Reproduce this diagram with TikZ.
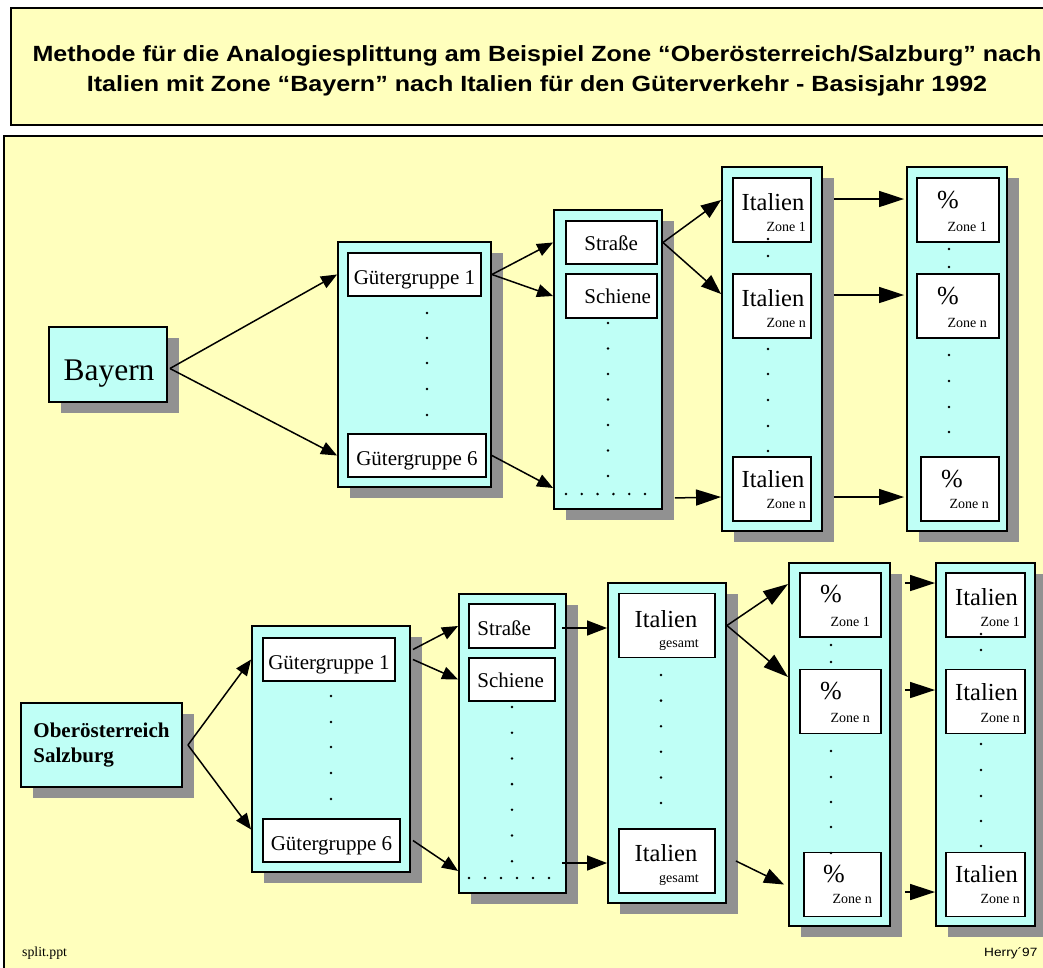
\documentclass[tikz,border=0pt]{standalone}
\usepackage{fontspec}
\setmainfont{Liberation Serif}
\newfontfamily\titlefont[FakeStretch=1.14]{Liberation Sans}
\usepackage{tikz}
\usetikzlibrary{arrows.meta, shadows, calc}
\definecolor{paneyellow}{RGB}{255, 255, 189}
\definecolor{boxcyan}{RGB}{191, 255, 246}
\definecolor{shadowgrey}{RGB}{145, 145, 145}

\begin{document}
\begin{tikzpicture}[x=1pt, y=-1pt,
  col/.style={draw, line width=1.9pt, fill=boxcyan, inner sep=0pt,
    drop shadow={shadow xshift=12pt, shadow yshift=-11pt, fill=shadowgrey, opacity=1}},
  cell/.style={draw, line width=1.6pt, fill=white, inner sep=0pt},
  txt/.style={inner sep=0pt, font=\fontsize{21}{25}\selectfont},
  ggtxt/.style={txt, text height=20pt, text depth=0pt},
  srctxt/.style={inner sep=0pt, font=\fontsize{31.5}{36}\selectfont},
  bigtxt/.style={inner sep=0pt, font=\fontsize{24.5}{28}\selectfont},
  pcttxt/.style={inner sep=0pt, font=\fontsize{26}{30}\selectfont},
  zonetxt/.style={inner sep=0pt, font=\fontsize{14}{16}\selectfont},
  tip/.style={line width=1.5pt, -{Triangle[length=16pt, width=13pt]}},
  midtip/.style={line width=1.5pt, -{Triangle[length=20pt, width=15pt]}},
  bigtip/.style={line width=1.5pt, -{Triangle[length=25pt, width=16pt]}}]

  \useasboundingbox (0,0) rectangle (1043,967);

  % title and panel
  \draw[fill=paneyellow, line width=1.6pt] (11,8) rectangle (1060,125);
  \node[font=\titlefont\bfseries\fontsize{22}{30}\selectfont, align=center] (title) at (537,70.8)
    {Methode für die Analogiesplittung am Beispiel Zone “Oberösterreich/Salzburg” nach\\
     Italien mit Zone “Bayern” nach Italien für den Güterverkehr - Basisjahr 1992};
  \draw[fill=paneyellow, line width=1.6pt] (4,136) rectangle (1060,980);

  % ---- Bayern ----
  \node[col, minimum width=118pt, minimum height=75pt] (bayern) at (108,364.5) {};
  \node[srctxt, anchor=base] (bayernt) at ($(bayern.center)+(1,15.5)$) {Bayern};

  \node[col, minimum width=153pt, minimum height=245pt] (ggtop) at (414.5,364.5) {};
  \node[cell, ggtxt, minimum width=133pt, minimum height=43pt] (gg1) at (414.5,274.5) {Gütergruppe 1};
  \node[cell, ggtxt, minimum width=138pt, minimum height=43pt] (gg6) at (417,455.5) {Gütergruppe 6};
  \foreach \y in {313,338,363,389,415} \fill (427,\y) circle[radius=1.4pt];

  \node[col, minimum width=108pt, minimum height=299pt] (sttop) at (608,359.5) {};
  \node[cell, minimum width=91pt, minimum height=43pt] (str1) at (611.5,242.5) {};
  \node[txt, anchor=base west] (str1t) at ($(str1.west)+(19,8)$) {Straße};
  \node[cell, minimum width=91pt, minimum height=44pt] (sch1) at (611.5,296) {};
  \node[txt, anchor=base west] (sch1t) at ($(sch1.west)+(19,7)$) {Schiene};
  \foreach \i in {0,...,6} \fill (608,323+25.5*\i) circle[radius=1.4pt];
  \foreach \i in {0,...,5} \fill (566+15.8*\i,494) circle[radius=1.4pt];

  \node[col, minimum width=100pt, minimum height=364pt] (ittop) at (772,349) {};
  \foreach \nm/\yc/\zn/\dy/\dz in {it1/210/1/0/21, it2/306/n/0/21, it3/489/n/-2/19} {
    \node[cell, minimum width=78pt, minimum height=64pt] (\nm) at (772,\yc) {};
    \node[bigtxt, anchor=base] (\nm t) at ($(\nm.center)+(1,\dy)$) {Italien};
    \node[zonetxt, anchor=base east] (\nm z) at ($(\nm.center)+(34,\dz)$) {Zone \zn};
  }
  \foreach \y in {239,256,349,374,400,426,451} \fill (768,\y) circle[radius=1.4pt];

  \node[col, minimum width=100pt, minimum height=364pt] (pctop) at (957,349) {};
  \foreach \nm/\xc/\yc/\bw/\dx/\zn/\dz in {p1/958/210/82/-10/1/21, p2/958/306/82/-10/n/21, p3/960/489/78/-8/n/19} {
    \node[cell, minimum width=\bw pt, minimum height=64pt] (\nm) at (\xc,\yc) {};
    \node[pcttxt, anchor=base] (\nm t) at ($(\nm.center)+(\dx,-2)$) {\%};
    \node[zonetxt, anchor=base east] (\nm z) at ($(\nm.center)+(29,\dz)$) {Zone \zn};
  }
  \foreach \y in {249,267,355,381,407,432} \fill (949,\y) circle[radius=1.4pt];

  \draw[tip] ($(bayern.east)+(2,4)$) -- (ggtop.west |- gg1.center);
  \draw[tip] ($(bayern.east)+(2,4)$) -- (ggtop.west |- gg6.center);
  \draw[tip] (ggtop.east |- gg1.center) -- (sttop.west |- str1.center);
  \draw[tip] (ggtop.east |- gg1.center) -- (sttop.west |- sch1.center);
  \draw[tip] (ggtop.east |- gg6.center) -- ($(sttop.south west)+(0,-22)$);
  \draw[midtip] (sttop.east |- str1.center) -- ($(ittop.west |- it1.center)+(0,-10)$);
  \draw[midtip] (sttop.east |- str1.center) -- ($(ittop.west |- it2.center)+(0,-12)$);
  \draw[bigtip] ($(sttop.south east)+(12,-12)$) -- ($(ittop.west |- it3.center)+(0,8)$);
  \foreach \nm/\dy in {it1/-11, it2/-11, it3/8}
    \draw[bigtip] ($(ittop.east |- \nm.center)+(11,\dy)$) -- ($(pctop.west |- \nm.center)+(-2,\dy)$);

  % ---- Oberoesterreich / Salzburg ----
  \node[col, minimum width=161pt, minimum height=84pt, align=left,
    font=\bfseries\fontsize{21}{25}\selectfont] (ober) at (101.5,745) {Oberösterreich\\Salzburg};

  \node[col, minimum width=158pt, minimum height=246pt] (ggbot) at (331,749) {};
  \node[cell, ggtxt, minimum width=132pt, minimum height=43pt] (gb1) at (329,659.5) {Gütergruppe 1};
  \node[cell, ggtxt, minimum width=137pt, minimum height=43pt] (gb6) at (331.5,840.5) {Gütergruppe 6};
  \foreach \y in {696,722,747,773,799} \fill (331,\y) circle[radius=1.4pt];

  \node[col, minimum width=107pt, minimum height=299pt] (stbot) at (512.5,743.5) {};
  \node[cell, minimum width=86pt, minimum height=44pt] (str2) at (512,626) {};
  \node[txt, anchor=base west] (str2t) at ($(str2.west)+(9,9)$) {Straße};
  \node[cell, minimum width=86pt, minimum height=43pt] (sch2) at (512,679.5) {};
  \node[txt, anchor=base west] (sch2t) at ($(sch2.west)+(9,7.5)$) {Schiene};
  \foreach \i in {0,...,6} \fill (512,707+25.7*\i) circle[radius=1.4pt];
  \foreach \i in {0,...,5} \fill (469+16*\i,878) circle[radius=1.4pt];

  \node[col, minimum width=118pt, minimum height=320pt] (igbot) at (667,743) {};
  \foreach \nm/\yc/\dy in {ig1/625.5/1.5, ig2/861/0} {
    \node[cell, minimum width=96pt, minimum height=64pt] (\nm) at (667,\yc) {};
    \node[bigtxt, anchor=base] (\nm t) at ($(\nm.center)+(-1,\dy)$) {Italien};
    \node[zonetxt, anchor=base east] (\nm z) at ($(\nm.center)+(32,21.5)$) {gesamt};
  }
  \foreach \i in {0,...,5} \fill (661,675+25.6*\i) circle[radius=1.4pt];

  \node[col, minimum width=101pt, minimum height=363pt] (pcbot) at (839.5,744.5) {};
  \foreach \nm/\xc/\yc/\bw/\dx/\zn/\dz in {pb1/840.5/605/81/-9.5/1/21, pb2/840.5/701.5/81/-9.5/n/21, pb3/842.5/884.5/77/-8.5/n/18.5} {
    \node[cell, minimum width=\bw pt, minimum height=64pt] (\nm) at (\xc,\yc) {};
    \node[pcttxt, anchor=base] (\nm t) at ($(\nm.center)+(\dx,-2.5)$) {\%};
    \node[zonetxt, anchor=base east] (\nm z) at ($(\nm.center)+(29.5,\dz)$) {Zone \zn};
  }
  \foreach \y in {645,662,751,777,802,827,853} \fill (831,\y) circle[radius=1.4pt];

  \node[col, minimum width=99pt, minimum height=363pt] (itbot) at (985.5,744.5) {};
  \foreach \nm/\yc/\zn/\dy/\dz in {ib1/605/1/0/21, ib2/701.5/n/-1/21, ib3/884.5/n/-2.5/18.5} {
    \node[cell, minimum width=79pt, minimum height=64pt] (\nm) at (985.5,\yc) {};
    \node[bigtxt, anchor=base] (\nm t) at ($(\nm.center)+(1,\dy)$) {Italien};
    \node[zonetxt, anchor=base east] (\nm z) at ($(\nm.center)+(34.5,\dz)$) {Zone \zn};
  }
  \foreach \y in {634,650,744,770,796,821,846} \fill (981,\y) circle[radius=1.4pt];

  \draw[tip] ($(ober.east)+(5,0)$) -- (ggbot.west |- gb1.center);
  \draw[tip] ($(ober.east)+(5,0)$) -- ($(ggbot.west |- gb6.center)+(0,-11)$);
  \draw[tip] ($(ggbot.east |- gb1.center)+(2,-10)$) -- (stbot.west |- str2.center);
  \draw[tip] ($(ggbot.east |- gb1.center)+(2,0)$) -- (stbot.west |- sch2.center);
  \draw[tip] ($(ggbot.east |- gb6.center)+(2,0)$) -- ($(stbot.south west)+(0,-23)$);
  \draw[midtip] ($(str2.east)+(6,2)$) -- ($(igbot.west |- ig1.center)+(0,2.5)$);
  \draw[midtip] ($(stbot.east |- ig2.center)+(-5,2)$) -- ($(igbot.west |- ig2.center)+(0,2)$);
  \draw[bigtip] (igbot.east |- ig1.center) -- ($(pcbot.west |- pb1.center)+(0,-21)$);
  \draw[bigtip] (igbot.east |- ig1.center) -- ($(pcbot.west |- pb2.center)+(0,-24.5)$);
  \draw[midtip] ($(igbot.east |- ig2.center)+(9,0)$) -- ($(pcbot.west |- pb3.center)+(-4,0)$);
  \foreach \nm/\dy in {pb1/-22, pb2/-11.5, pb3/7.5}
    \draw[bigtip] ($(pcbot.east |- \nm.center)+(14,\dy)$) -- ($(itbot.west |- \nm.center)+(0,\dy)$);

  % footer
  \node[font=\fontsize{13.8}{16}\selectfont, anchor=base west, inner sep=0pt] (file) at (22,956) {split.ppt};
  \node[font=\titlefont\fontsize{12}{14}\selectfont, anchor=base west, inner sep=0pt] (sign) at (984,956) {Herry´97};

\end{tikzpicture}
\end{document}
